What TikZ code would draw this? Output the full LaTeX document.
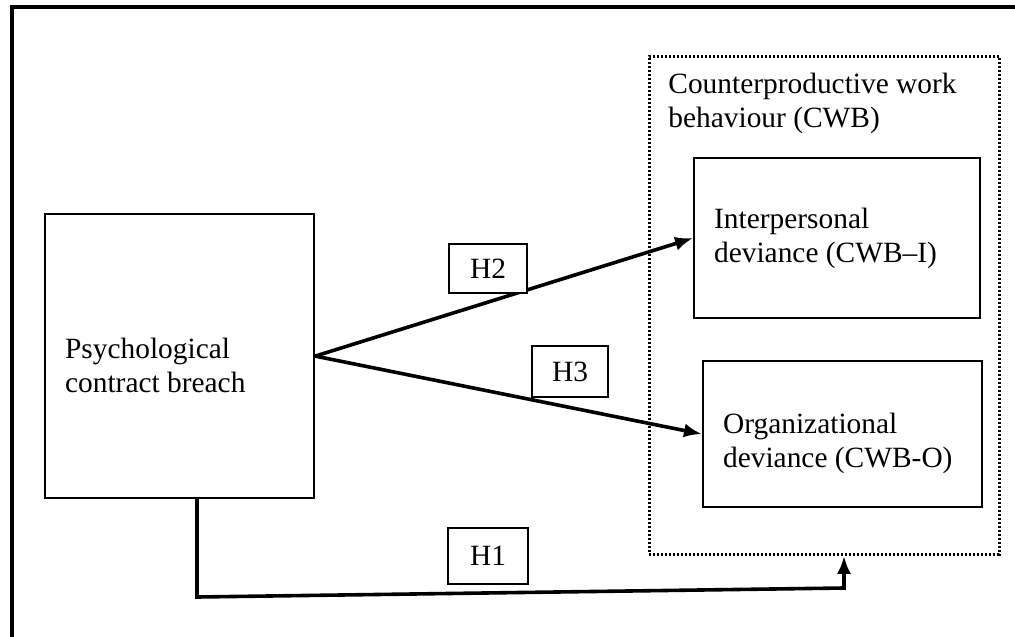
\documentclass[tikz,border=0pt]{standalone}
\usepackage{fontspec}
\setmainfont{Liberation Serif}
\usetikzlibrary{arrows.meta,calc}

\begin{document}
\begin{tikzpicture}[x=0.5pt, y=-0.5pt,
  font=\fontsize{14.7}{17}\selectfont,
  every node/.append style={execute at begin node={\spaceskip=0pt\xspaceskip=0pt}},
  >={Latex[length=9pt,width=7pt]},
  var/.style={draw, line width=1.1pt, inner xsep=10pt, inner ysep=0pt, align=left, anchor=north west},
  hyp/.style={draw, fill=white, line width=1.1pt, inner sep=0pt},
  link/.style={->, line width=1.8pt}]
  \useasboundingbox (0,0) rectangle (1015,636);
  \draw[line width=2pt] (12,640) -- (12,7) -- (1020,7);

  \node[draw, line width=1.4pt, dash pattern=on 1pt off 1pt, anchor=north west,
        minimum width=175pt, minimum height=249pt] (cwb) at (648,55) {};
  \node[anchor=north west, align=left, inner sep=0pt] (cwbtitle) at (668,73)
    {Counterproductive work\\behaviour (CWB)};

  \node[var, text width=114.5pt, minimum height=142pt] (psy) at (44,213)
    {\rule{0pt}{20pt}Psychological\\contract breach};
  \node[var, text width=123pt, minimum height=80pt] (inter) at (693,157)
    {Interpersonal\\deviance (CWB--I)};
  \node[var, text width=119.5pt, minimum height=73pt] (org) at (702,360)
    {\rule{0pt}{20pt}Organizational\\deviance (CWB-O)};

  \path[link] (psy.east) edge (inter.west)
              edge (org.west);
  \coordinate (h1a) at (197,597);
  \coordinate (h1b) at (844,588);
  \draw[link] (psy.south -| h1a) -- (h1a) -- (h1b) -- (h1b |- cwb.south);

  \node[hyp, minimum width=39pt, minimum height=24.5pt] (h2) at (488,268.5) {H2};
  \node[hyp, minimum width=38pt, minimum height=25.5pt] (h3) at (570,371.5) {H3};
  \node[hyp, minimum width=40pt, minimum height=28pt] (h1) at (488,556) {H1};
\end{tikzpicture}
\end{document}
